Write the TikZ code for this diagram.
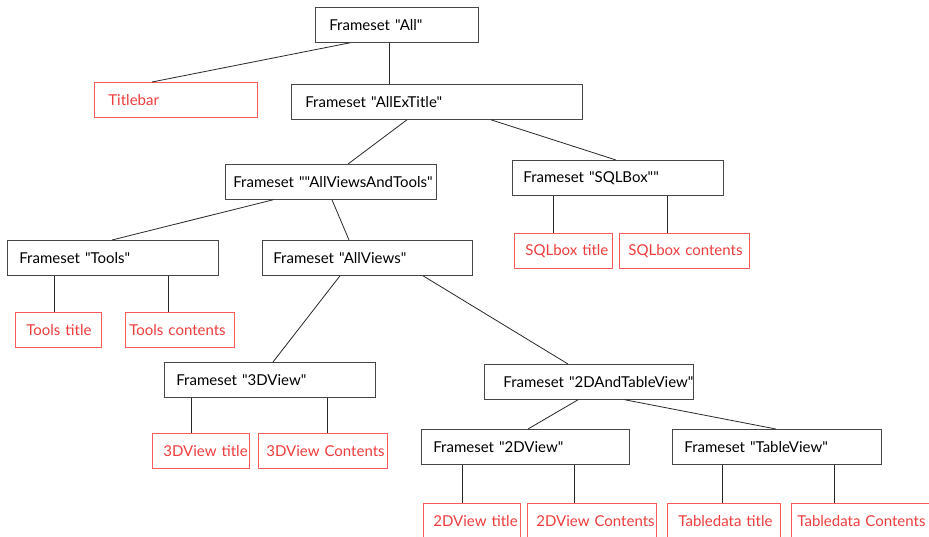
\documentclass[tikz,border=0pt]{standalone}
\usepackage{fontspec}
\setmainfont{Lato}[Ligatures=TeXOff]
\definecolor{fsline}{RGB}{40,40,40}
\definecolor{fsborder}{RGB}{70,70,70}
\definecolor{leafred}{RGB}{240,60,60}
\definecolor{leafborder}{RGB}{250,90,90}
\tikzset{
  fsbox/.style 2 args={draw=fsborder, line width=0.8pt, anchor=north west,
    minimum height=35pt, inner ysep=0pt, inner xsep=#2pt,
    text width=#1pt, align=left, font=\fontsize{15}{17}\selectfont},
  leaf/.style 2 args={fsbox={#1}{#2}, draw=leafborder, text=leafred},
  link/.style={draw=fsline, line width=0.8pt}
}
\begin{document}
\begin{tikzpicture}[x=1pt, y=-1pt]
\useasboundingbox[fill=white] (0,0) rectangle (929,536);
\begin{scope}
\clip (0,0) rectangle (929,536);
% framesets
\node[fsbox={135}{14}] (all)      at (315,7)   {\mbox{Frameset "All"}};
\node[fsbox={263}{14}] (allex)    at (291,84)  {\mbox{Frameset "AllExTitle"}};
\node[fsbox={195}{8}]  (avat)     at (225,164) {\mbox{Frameset ""AllViewsAndTools"}};
\node[fsbox={189}{11}] (sqlbox)   at (512,160) {\mbox{Frameset "SQLBox""}};
\node[fsbox={187}{12}] (tools)    at (7,240)   {\mbox{Frameset "Tools"}};
\node[fsbox={188}{11}] (allviews) at (262,240) {\mbox{Frameset "AllViews"}};
\node[fsbox={187}{12}] (view3d)   at (164,362) {\mbox{Frameset "3DView"}};
\node[fsbox={171}{19}] (datv)     at (484,364) {\mbox{Frameset "2DAndTableView"}};
\node[fsbox={184}{12}] (view2d)   at (421,429) {\mbox{Frameset "2DView"}};
\node[fsbox={185}{12}] (tabview)  at (672,429) {\mbox{Frameset "TableView"}};
% frames
\node[leaf={135}{14}] (titlebar)   at (94,82)   {\mbox{Titlebar}};
\node[leaf={76}{11}]  (sqltitle)   at (514,233) {\mbox{SQLbox title}};
\node[leaf={112}{9}]  (sqlcont)    at (619,233) {\mbox{SQLbox contents}};
\node[leaf={64}{11}]  (toolstitle) at (15,312)  {\mbox{Tools title}};
\node[leaf={101}{4}]  (toolscont)  at (125,312) {\mbox{Tools contents}};
\node[leaf={75}{11}]  (title3d)    at (152,433) {\mbox{3DView title}};
\node[leaf={113}{8}]  (cont3d)     at (258,433) {\mbox{3DView Contents}};
\node[leaf={77}{10}]  (title2d)    at (423,503) {\mbox{2DView title}};
\node[leaf={111}{9}]  (cont2d)     at (527,503) {\mbox{2DView Contents}};
\node[leaf={91}{11}]  (tdtitle)    at (667,503) {\mbox{Tabledata title}};
\node[leaf={132}{6}]  (tdcont)     at (791,503) {\mbox{Tabledata Contents}};
% connectors
\draw[link] ([xshift=35pt]all.south west)       -- ([xshift=58pt]titlebar.north west);
\draw[link] ([xshift=74pt]all.south west)       -- ([xshift=98pt]allex.north west);
\draw[link] ([xshift=116pt]allex.south west)    -- ([xshift=123pt]avat.north west);
\draw[link] ([xshift=200pt]allex.south west)    -- ([xshift=104pt]sqlbox.north west);
\draw[link] ([xshift=48pt]avat.south west)      -- ([xshift=105pt]tools.north west);
\draw[link] ([xshift=107pt]avat.south west)     -- ([xshift=87pt]allviews.north west);
\draw[link] ([xshift=41pt]sqlbox.south west)    -- ([xshift=39pt]sqltitle.north west);
\draw[link] ([xshift=155pt]sqlbox.south west)   -- ([xshift=48pt]sqlcont.north west);
\draw[link] ([xshift=47pt]tools.south west)     -- ([xshift=39pt]toolstitle.north west);
\draw[link] ([xshift=161pt]tools.south west)    -- ([xshift=43pt]toolscont.north west);
\draw[link] ([xshift=78pt]allviews.south west)  -- ([xshift=109pt]view3d.north west);
\draw[link] ([xshift=161pt]allviews.south west) -- ([xshift=84pt]datv.north west);
\draw[link] ([xshift=27pt]view3d.south west)    -- ([xshift=39pt]title3d.north west);
\draw[link] ([xshift=163pt]view3d.south west)   -- ([xshift=69pt]cont3d.north west);
\draw[link] ([xshift=94pt]datv.south west)      -- ([xshift=107pt]view2d.north west);
\draw[link] ([xshift=141pt]datv.south west)     -- ([xshift=104pt]tabview.north west);
\draw[link] ([xshift=41pt]view2d.south west)    -- ([xshift=39pt]title2d.north west);
\draw[link] ([xshift=153pt]view2d.south west)   -- ([xshift=47pt]cont2d.north west);
\draw[link] ([xshift=50pt]tabview.south west)   -- ([xshift=55pt]tdtitle.north west);
\draw[link] ([xshift=162pt]tabview.south west)  -- ([xshift=43pt]tdcont.north west);
\end{scope}
\end{tikzpicture}
\end{document}
